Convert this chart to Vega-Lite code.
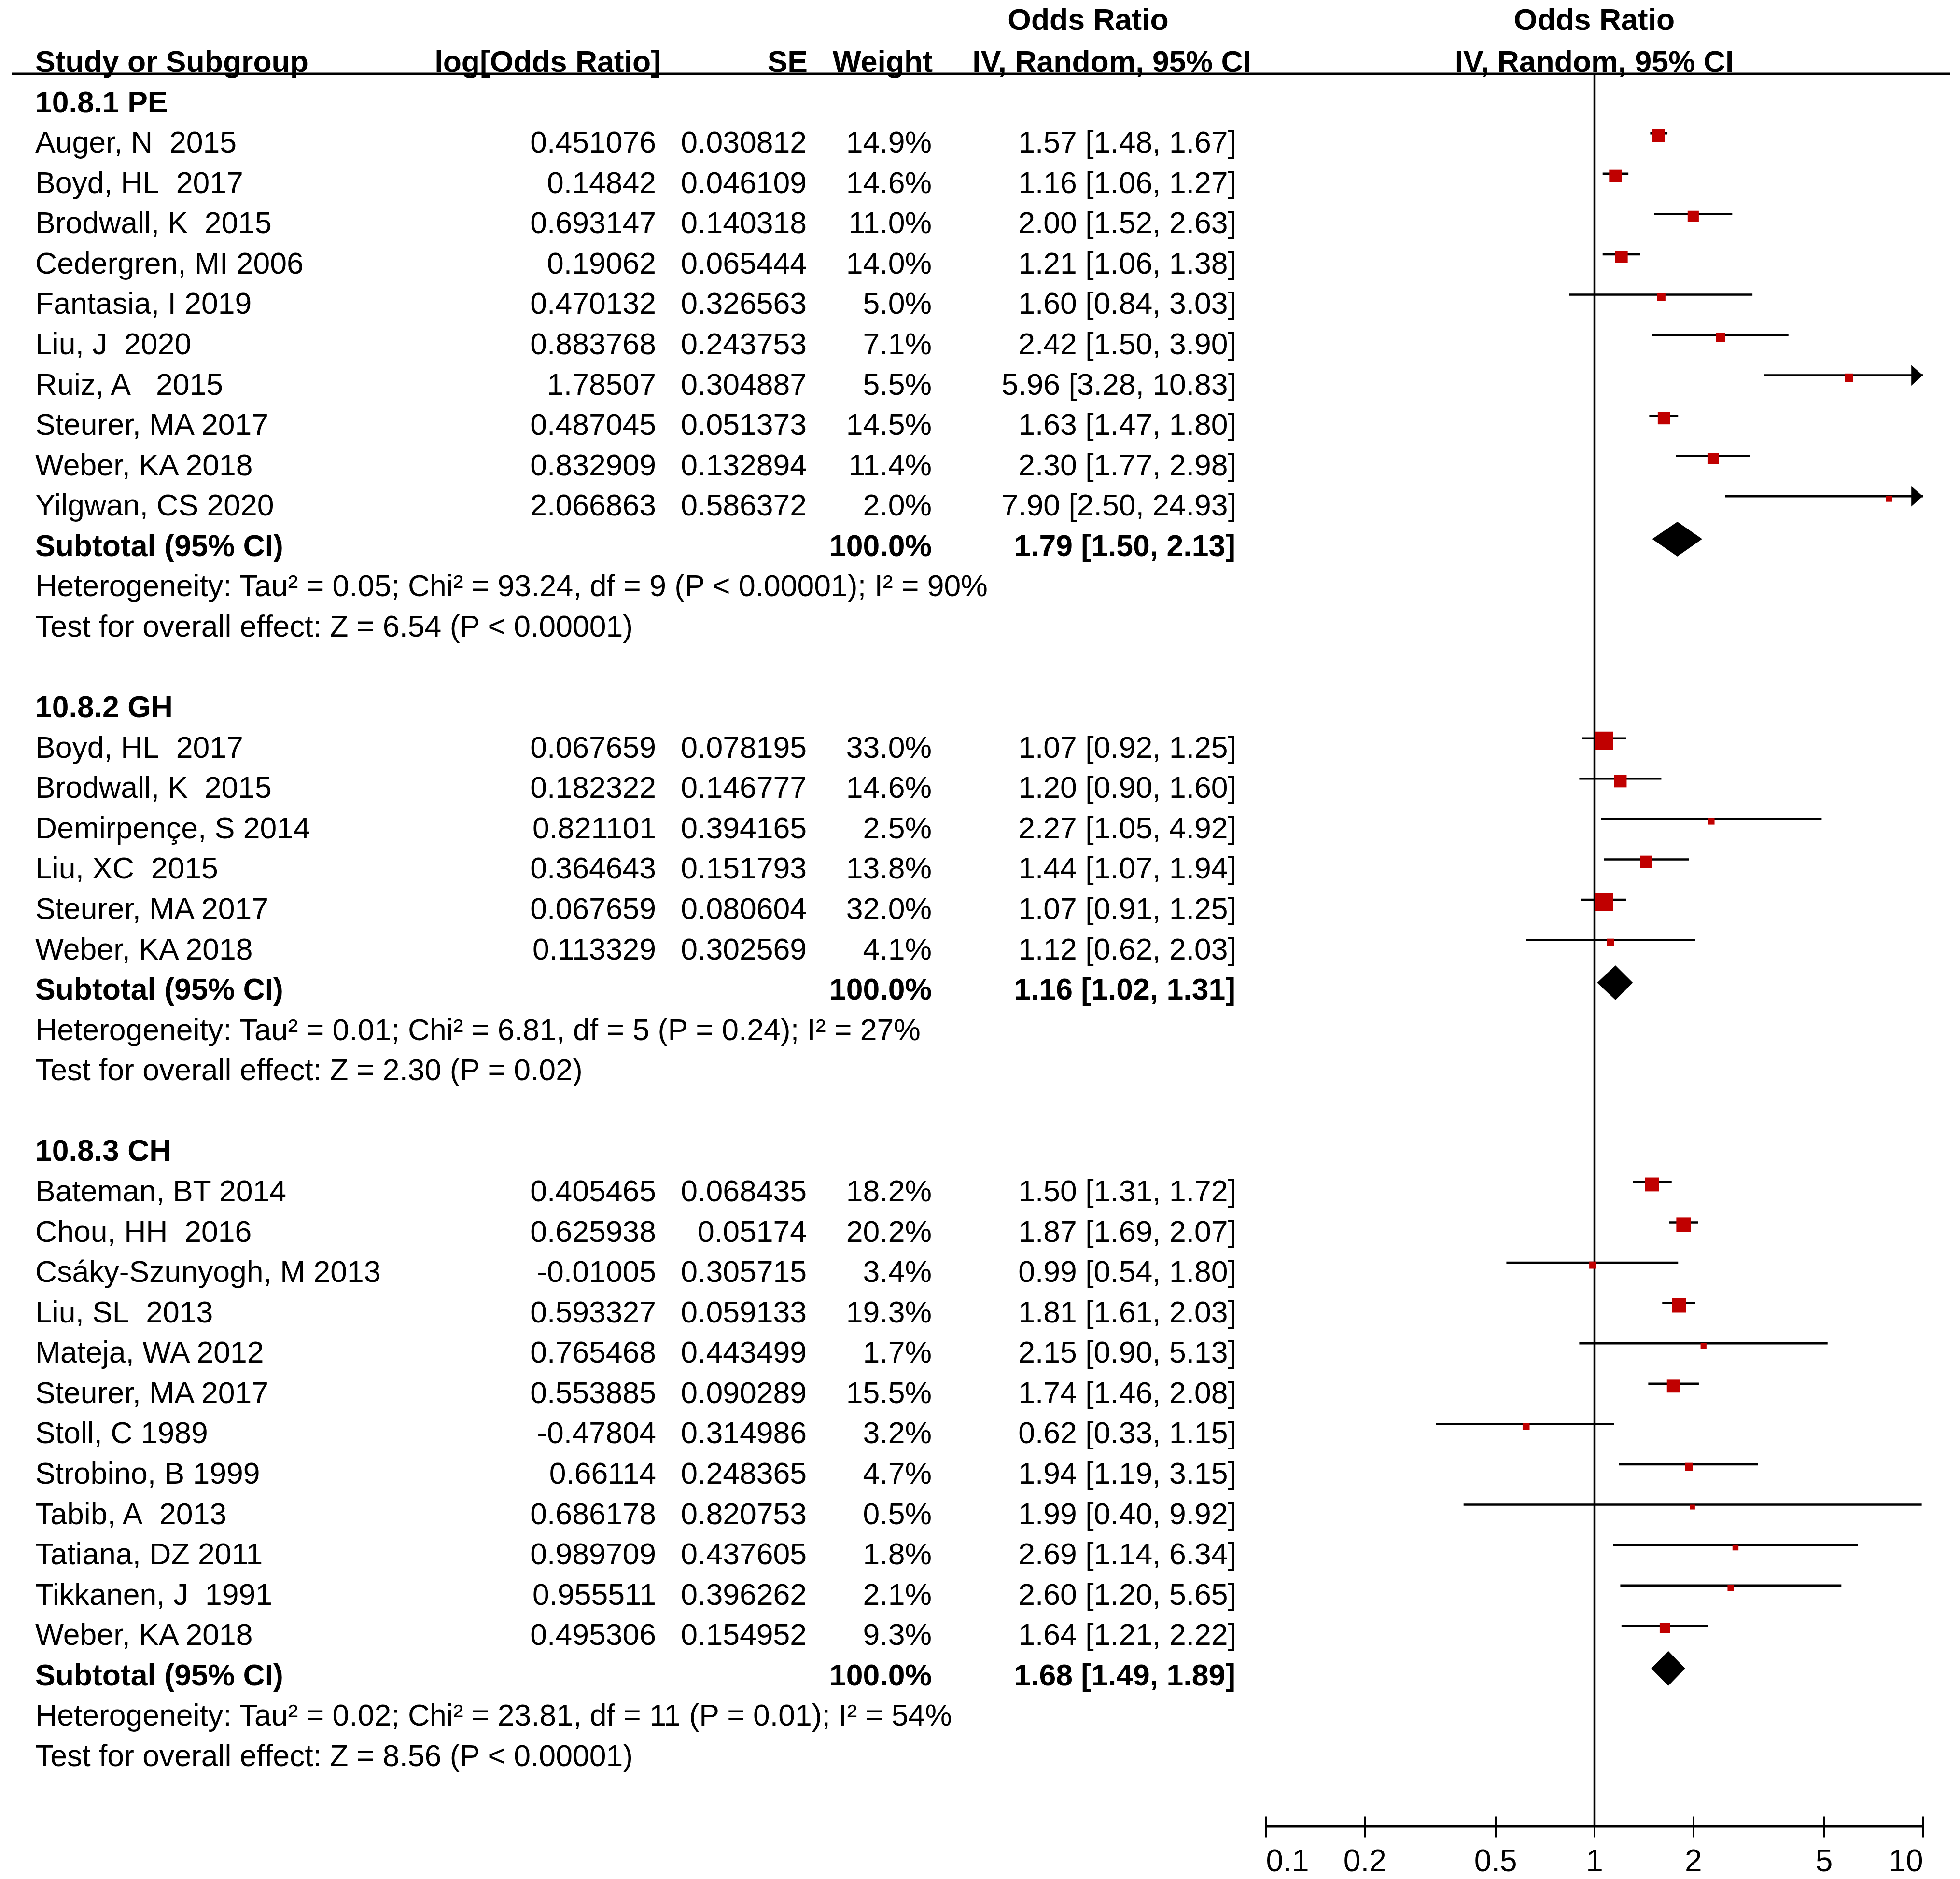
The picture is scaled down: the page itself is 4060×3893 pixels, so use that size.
{
  "$schema": "https://vega.github.io/schema/vega-lite/v6.json",
  "padding": {"left": 22, "top": 0, "right": 60, "bottom": 105},
  "spacing": 0,
  "bounds": "flush",
  "config": {
    "view": {"stroke": null},
    "text": {"font": "Liberation Sans", "fontSize": 62.5, "color": "black", "baseline": "middle"},
    "axis": {"labelFont": "Liberation Sans"}
  },
  "datasets": {
    "rows": [
      {"row": 1, "type": "group", "group": "PE", "label": "10.8.1 PE"},
      {"row": 2, "type": "study", "group": "PE", "label": "Auger, N\u00a0 2015", "logor": 0.451076, "se": 0.030812, "weight": 14.9, "or": 1.57, "lo": 1.48, "hi": 1.67},
      {"row": 3, "type": "study", "group": "PE", "label": "Boyd, HL\u00a0 2017", "logor": 0.14842, "se": 0.046109, "weight": 14.6, "or": 1.16, "lo": 1.06, "hi": 1.27},
      {"row": 4, "type": "study", "group": "PE", "label": "Brodwall, K\u00a0 2015", "logor": 0.693147, "se": 0.140318, "weight": 11.0, "or": 2.00, "lo": 1.52, "hi": 2.63},
      {"row": 5, "type": "study", "group": "PE", "label": "Cedergren, MI 2006", "logor": 0.19062, "se": 0.065444, "weight": 14.0, "or": 1.21, "lo": 1.06, "hi": 1.38},
      {"row": 6, "type": "study", "group": "PE", "label": "Fantasia, I 2019", "logor": 0.470132, "se": 0.326563, "weight": 5.0, "or": 1.60, "lo": 0.84, "hi": 3.03},
      {"row": 7, "type": "study", "group": "PE", "label": "Liu, J\u00a0 2020", "logor": 0.883768, "se": 0.243753, "weight": 7.1, "or": 2.42, "lo": 1.50, "hi": 3.90},
      {"row": 8, "type": "study", "group": "PE", "label": "Ruiz, A\u00a0\u00a0 2015", "logor": 1.78507, "se": 0.304887, "weight": 5.5, "or": 5.96, "lo": 3.28, "hi": 10.83},
      {"row": 9, "type": "study", "group": "PE", "label": "Steurer, MA 2017", "logor": 0.487045, "se": 0.051373, "weight": 14.5, "or": 1.63, "lo": 1.47, "hi": 1.80},
      {"row": 10, "type": "study", "group": "PE", "label": "Weber, KA 2018", "logor": 0.832909, "se": 0.132894, "weight": 11.4, "or": 2.30, "lo": 1.77, "hi": 2.98},
      {"row": 11, "type": "study", "group": "PE", "label": "Yilgwan, CS 2020", "logor": 2.066863, "se": 0.586372, "weight": 2.0, "or": 7.90, "lo": 2.50, "hi": 24.93},
      {"row": 12, "type": "subtotal", "group": "PE", "label": "Subtotal (95% CI)", "weight": 100.0, "or": 1.79, "lo": 1.50, "hi": 2.13},
      {"row": 13, "type": "het", "group": "PE", "label": "Heterogeneity: Tau² = 0.05; Chi² = 93.24, df = 9 (P < 0.00001); I² = 90%"},
      {"row": 14, "type": "test", "group": "PE", "label": "Test for overall effect: Z = 6.54 (P < 0.00001)"},
      {"row": 16, "type": "group", "group": "GH", "label": "10.8.2 GH"},
      {"row": 17, "type": "study", "group": "GH", "label": "Boyd, HL\u00a0 2017", "logor": 0.067659, "se": 0.078195, "weight": 33.0, "or": 1.07, "lo": 0.92, "hi": 1.25},
      {"row": 18, "type": "study", "group": "GH", "label": "Brodwall, K\u00a0 2015", "logor": 0.182322, "se": 0.146777, "weight": 14.6, "or": 1.20, "lo": 0.90, "hi": 1.60},
      {"row": 19, "type": "study", "group": "GH", "label": "Demirpençe, S 2014", "logor": 0.821101, "se": 0.394165, "weight": 2.5, "or": 2.27, "lo": 1.05, "hi": 4.92},
      {"row": 20, "type": "study", "group": "GH", "label": "Liu, XC\u00a0 2015", "logor": 0.364643, "se": 0.151793, "weight": 13.8, "or": 1.44, "lo": 1.07, "hi": 1.94},
      {"row": 21, "type": "study", "group": "GH", "label": "Steurer, MA 2017", "logor": 0.067659, "se": 0.080604, "weight": 32.0, "or": 1.07, "lo": 0.91, "hi": 1.25},
      {"row": 22, "type": "study", "group": "GH", "label": "Weber, KA 2018", "logor": 0.113329, "se": 0.302569, "weight": 4.1, "or": 1.12, "lo": 0.62, "hi": 2.03},
      {"row": 23, "type": "subtotal", "group": "GH", "label": "Subtotal (95% CI)", "weight": 100.0, "or": 1.16, "lo": 1.02, "hi": 1.31},
      {"row": 24, "type": "het", "group": "GH", "label": "Heterogeneity: Tau² = 0.01; Chi² = 6.81, df = 5 (P = 0.24); I² = 27%"},
      {"row": 25, "type": "test", "group": "GH", "label": "Test for overall effect: Z = 2.30 (P = 0.02)"},
      {"row": 27, "type": "group", "group": "CH", "label": "10.8.3 CH"},
      {"row": 28, "type": "study", "group": "CH", "label": "Bateman, BT 2014", "logor": 0.405465, "se": 0.068435, "weight": 18.2, "or": 1.50, "lo": 1.31, "hi": 1.72},
      {"row": 29, "type": "study", "group": "CH", "label": "Chou, HH\u00a0 2016", "logor": 0.625938, "se": 0.05174, "weight": 20.2, "or": 1.87, "lo": 1.69, "hi": 2.07},
      {"row": 30, "type": "study", "group": "CH", "label": "Csáky-Szunyogh, M 2013", "logor": -0.01005, "se": 0.305715, "weight": 3.4, "or": 0.99, "lo": 0.54, "hi": 1.80},
      {"row": 31, "type": "study", "group": "CH", "label": "Liu, SL\u00a0 2013", "logor": 0.593327, "se": 0.059133, "weight": 19.3, "or": 1.81, "lo": 1.61, "hi": 2.03},
      {"row": 32, "type": "study", "group": "CH", "label": "Mateja, WA 2012", "logor": 0.765468, "se": 0.443499, "weight": 1.7, "or": 2.15, "lo": 0.90, "hi": 5.13},
      {"row": 33, "type": "study", "group": "CH", "label": "Steurer, MA 2017", "logor": 0.553885, "se": 0.090289, "weight": 15.5, "or": 1.74, "lo": 1.46, "hi": 2.08},
      {"row": 34, "type": "study", "group": "CH", "label": "Stoll, C 1989", "logor": -0.47804, "se": 0.314986, "weight": 3.2, "or": 0.62, "lo": 0.33, "hi": 1.15},
      {"row": 35, "type": "study", "group": "CH", "label": "Strobino, B 1999", "logor": 0.66114, "se": 0.248365, "weight": 4.7, "or": 1.94, "lo": 1.19, "hi": 3.15},
      {"row": 36, "type": "study", "group": "CH", "label": "Tabib, A\u00a0 2013", "logor": 0.686178, "se": 0.820753, "weight": 0.5, "or": 1.99, "lo": 0.40, "hi": 9.92},
      {"row": 37, "type": "study", "group": "CH", "label": "Tatiana, DZ 2011", "logor": 0.989709, "se": 0.437605, "weight": 1.8, "or": 2.69, "lo": 1.14, "hi": 6.34},
      {"row": 38, "type": "study", "group": "CH", "label": "Tikkanen, J\u00a0 1991", "logor": 0.955511, "se": 0.396262, "weight": 2.1, "or": 2.60, "lo": 1.20, "hi": 5.65},
      {"row": 39, "type": "study", "group": "CH", "label": "Weber, KA 2018", "logor": 0.495306, "se": 0.154952, "weight": 9.3, "or": 1.64, "lo": 1.21, "hi": 2.22},
      {"row": 40, "type": "subtotal", "group": "CH", "label": "Subtotal (95% CI)", "weight": 100.0, "or": 1.68, "lo": 1.49, "hi": 1.89},
      {"row": 41, "type": "het", "group": "CH", "label": "Heterogeneity: Tau² = 0.02; Chi² = 23.81, df = 11 (P = 0.01); I² = 54%"},
      {"row": 42, "type": "test", "group": "CH", "label": "Test for overall effect: Z = 8.56 (P < 0.00001)"}
    ]
  },
  "hconcat": [
    {
      "width": 978, "height": 3784,
      "data": {"name": "rows"},
      "layer": [
        {"data": {"values": [{}]}, "mark": {"type": "rule", "strokeWidth": 5, "color": "black"},
         "encoding": {"y": {"datum": 0.275, "type": "quantitative", "scale": {"domain": [-1.556, 43.724], "nice": false, "zero": false, "reverse": true}, "axis": null}}},
        {"data": {"values": [{}]}, "mark": {"type": "text", "align": "left", "dx": 48, "fontWeight": "bold", "text": "Study or Subgroup"},
         "encoding": {"x": {"value": 0}, "y": {"datum": 0, "type": "quantitative"}}},
        {"transform": [{"filter": "datum.type == 'group' || datum.type == 'subtotal'"}],
         "mark": {"type": "text", "align": "left", "dx": 48, "fontWeight": "bold"},
         "encoding": {"x": {"value": 0}, "y": {"field": "row", "type": "quantitative"}, "text": {"field": "label", "type": "nominal"}}},
        {"transform": [{"filter": "datum.type == 'study' || datum.type == 'het' || datum.type == 'test'"}],
         "mark": {"type": "text", "align": "left", "dx": 48},
         "encoding": {"x": {"value": 0}, "y": {"field": "row", "type": "quantitative"}, "text": {"field": "label", "type": "nominal"}}}
      ]
    },
    {
      "width": 356, "height": 3784,
      "data": {"name": "rows"},
      "layer": [
        {"data": {"values": [{}]}, "mark": {"type": "rule", "strokeWidth": 5, "color": "black"},
         "encoding": {"y": {"datum": 0.275, "type": "quantitative", "scale": {"domain": [-1.556, 43.724], "nice": false, "zero": false, "reverse": true}, "axis": null}}},
        {"data": {"values": [{}]}, "mark": {"type": "text", "align": "right", "dx": 10, "fontWeight": "bold", "text": "log[Odds Ratio]"},
         "encoding": {"x": {"value": "width"}, "y": {"datum": 0, "type": "quantitative"}}},
        {"transform": [{"filter": "datum.type == 'study'"}],
         "mark": {"type": "text", "align": "right"},
         "encoding": {"x": {"value": "width"}, "y": {"field": "row", "type": "quantitative"}, "text": {"field": "logor", "type": "nominal"}}}
      ]
    },
    {
      "width": 312, "height": 3784,
      "data": {"name": "rows"},
      "layer": [
        {"data": {"values": [{}]}, "mark": {"type": "rule", "strokeWidth": 5, "color": "black"},
         "encoding": {"y": {"datum": 0.275, "type": "quantitative", "scale": {"domain": [-1.556, 43.724], "nice": false, "zero": false, "reverse": true}, "axis": null}}},
        {"data": {"values": [{}]}, "mark": {"type": "text", "align": "right", "dx": 2, "fontWeight": "bold", "text": "SE"},
         "encoding": {"x": {"value": "width"}, "y": {"datum": 0, "type": "quantitative"}}},
        {"transform": [{"filter": "datum.type == 'study'"}],
         "mark": {"type": "text", "align": "right"},
         "encoding": {"x": {"value": "width"}, "y": {"field": "row", "type": "quantitative"}, "text": {"field": "se", "type": "nominal"}}}
      ]
    },
    {
      "width": 259, "height": 3784,
      "data": {"name": "rows"},
      "transform": [{"calculate": "isValid(datum.weight) ? format(datum.weight, '.1f') + '%' : ''", "as": "weightLabel"}],
      "layer": [
        {"data": {"values": [{}]}, "mark": {"type": "rule", "strokeWidth": 5, "color": "black"},
         "encoding": {"y": {"datum": 0.275, "type": "quantitative", "scale": {"domain": [-1.556, 43.724], "nice": false, "zero": false, "reverse": true}, "axis": null}}},
        {"data": {"values": [{}]}, "mark": {"type": "text", "align": "right", "dx": 2, "fontWeight": "bold", "text": "Weight"},
         "encoding": {"x": {"value": "width"}, "y": {"datum": 0, "type": "quantitative"}}},
        {"transform": [{"filter": "datum.type == 'study'"}],
         "mark": {"type": "text", "align": "right"},
         "encoding": {"x": {"value": "width"}, "y": {"field": "row", "type": "quantitative"}, "text": {"field": "weightLabel", "type": "nominal"}}},
        {"transform": [{"filter": "datum.type == 'subtotal'"}],
         "mark": {"type": "text", "align": "right", "fontWeight": "bold"},
         "encoding": {"x": {"value": "width"}, "y": {"field": "row", "type": "quantitative"}, "text": {"field": "weightLabel", "type": "nominal"}}}
      ]
    },
    {
      "width": 692, "height": 3784,
      "data": {"name": "rows"},
      "transform": [{"calculate": "isValid(datum.or) ? format(datum.or, '.2f') + ' [' + format(datum.lo, '.2f') + ', ' + format(datum.hi, '.2f') + ']' : ''", "as": "ciLabel"}],
      "layer": [
        {"data": {"values": [{}]}, "mark": {"type": "rule", "strokeWidth": 5, "color": "black"},
         "encoding": {"y": {"datum": 0.275, "type": "quantitative", "scale": {"domain": [-1.556, 43.724], "nice": false, "zero": false, "reverse": true}, "axis": null}}},
        {"data": {"values": [{}]}, "mark": {"type": "text", "align": "center", "dx": -368, "fontWeight": "bold", "text": "Odds Ratio"},
         "encoding": {"x": {"value": "width"}, "y": {"datum": -1.04, "type": "quantitative"}}},
        {"data": {"values": [{}]}, "mark": {"type": "text", "align": "right", "dx": -30, "fontWeight": "bold", "text": "IV, Random, 95% CI"},
         "encoding": {"x": {"value": "width"}, "y": {"datum": 0, "type": "quantitative"}}},
        {"transform": [{"filter": "datum.type == 'study'"}],
         "mark": {"type": "text", "align": "right", "dx": -61},
         "encoding": {"x": {"value": "width"}, "y": {"field": "row", "type": "quantitative"}, "text": {"field": "ciLabel", "type": "nominal"}}},
        {"transform": [{"filter": "datum.type == 'subtotal'"}],
         "mark": {"type": "text", "align": "right", "dx": -63, "fontWeight": "bold"},
         "encoding": {"x": {"value": "width"}, "y": {"field": "row", "type": "quantitative"}, "text": {"field": "ciLabel", "type": "nominal"}}}
      ]
    },
    {
      "width": 1361, "height": 3784,
      "data": {"name": "rows"},
      "layer": [
        {"data": {"values": [{}]}, "mark": {"type": "rule", "strokeWidth": 5, "color": "black", "x2Offset": 56},
         "encoding": {"x": {"value": 0}, "x2": {"value": "width"}, "y": {"datum": 0.275, "type": "quantitative", "scale": {"domain": [-1.556, 43.724], "nice": false, "zero": false, "reverse": true}, "axis": null}}},
        {"data": {"values": [{}]}, "mark": {"type": "rule", "strokeWidth": 3.5, "color": "black"},
         "encoding": {
           "x": {"datum": 1, "type": "quantitative",
                 "scale": {"type": "log", "domain": [0.1, 10], "nice": false},
                 "axis": {"values": [0.1, 0.2, 0.5, 1, 2, 5, 10], "format": "~g", "title": null, "domain": false, "grid": false,
                          "ticks": true, "tickSize": 44, "tickWidth": 3, "tickColor": "black", "offset": -21,
                          "labelFontSize": 64, "labelColor": "black", "labelPadding": 18, "labelFlush": true}},
           "y": {"datum": 0.275, "type": "quantitative"}, "y2": {"value": "height"}}},
        {"data": {"values": [{}]}, "mark": {"type": "rule", "strokeWidth": 5, "color": "black"},
         "encoding": {"x": {"datum": 0.1, "type": "quantitative"}, "x2": {"datum": 10}, "y": {"value": "height"}}},
        {"data": {"values": [{}]}, "mark": {"type": "text", "align": "center", "fontWeight": "bold", "text": "Odds Ratio"},
         "encoding": {"x": {"datum": 1, "type": "quantitative"}, "y": {"datum": -1.04, "type": "quantitative"}}},
        {"data": {"values": [{}]}, "mark": {"type": "text", "align": "center", "fontWeight": "bold", "text": "IV, Random, 95% CI"},
         "encoding": {"x": {"datum": 1, "type": "quantitative"}, "y": {"datum": 0, "type": "quantitative"}}},
        {"transform": [{"filter": "datum.type == 'study'"}, {"calculate": "min(datum.hi, 10)", "as": "hiClip"}],
         "mark": {"type": "rule", "strokeWidth": 4.5, "color": "black", "yOffset": -21},
         "encoding": {
           "x": {"field": "lo", "type": "quantitative", "title": null},
           "x2": {"field": "hiClip"},
           "y": {"field": "row", "type": "quantitative"}}},
        {"transform": [{"filter": "datum.type == 'study' && datum.hi > 10"}, {"calculate": "min(datum.hi, 10)", "as": "hiClip"}],
         "mark": {"type": "point", "shape": "M-1,-1.8L1,0L-1,1.8Z", "filled": true, "color": "black", "opacity": 1, "size": 560, "xOffset": -12, "yOffset": -21},
         "encoding": {"x": {"field": "hiClip", "type": "quantitative", "title": null}, "y": {"field": "row", "type": "quantitative"}}},
        {"transform": [{"filter": "datum.type == 'study'"}],
         "mark": {"type": "point", "shape": "square", "filled": true, "color": "#c00000", "opacity": 1, "yOffset": -16},
         "encoding": {"x": {"field": "or", "type": "quantitative", "title": null}, "y": {"field": "row", "type": "quantitative"},
                      "size": {"field": "weight", "type": "quantitative", "scale": {"domain": [0, 33], "range": [80, 1444]}, "legend": null}}},
        {"transform": [{"filter": "datum.type == 'subtotal'"},
                       {"fold": ["lo", "or", "hi"], "as": ["k", "v"]},
                       {"calculate": "datum.k == 'or' ? datum.row - 0.43 : datum.row", "as": "ytop"},
                       {"calculate": "datum.k == 'or' ? datum.row + 0.43 : datum.row", "as": "ybot"}],
         "mark": {"type": "area", "orient": "vertical", "color": "black", "opacity": 1, "yOffset": -16, "y2Offset": -16},
         "encoding": {"x": {"field": "v", "type": "quantitative", "title": null}, "y": {"field": "ytop", "type": "quantitative"}, "y2": {"field": "ybot"},
                      "detail": {"field": "group", "type": "nominal"}}}
      ]
    }
  ]
}
